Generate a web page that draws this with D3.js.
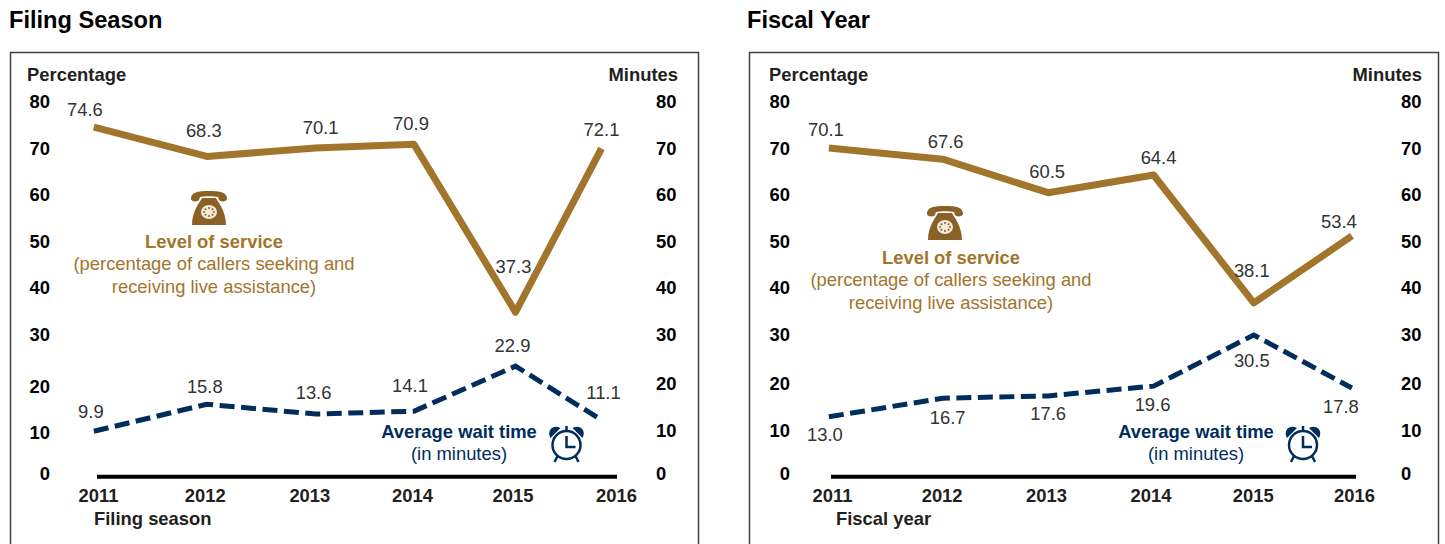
<!DOCTYPE html>
<html>
<head>
<meta charset="utf-8">
<script src="https://cdnjs.cloudflare.com/ajax/libs/d3/7.8.5/d3.min.js"></script>
<style>
  html, body { margin: 0; padding: 0; background: #fff; overflow: hidden; }
  svg { display: block; font-family: "Liberation Sans", Arial, sans-serif; }
</style>
</head>
<body>
<svg id="chart" width="1445" height="544"></svg>
<script>
const yLabels = [0, 10, 20, 30, 40, 50, 60, 70, 80];
const years = [2011, 2012, 2013, 2014, 2015, 2016];

// left panel. plotted heights in the source differ a little from the printed labels, so both are kept
const filingLabelPos = [2011, 2012.03, 2013.04, 2014.03, 2015, 2016];
const filingPointPos = [2010.96, 2012.05, 2013.1, 2014.05, 2015.03, 2015.86];
const filingService = [74.6, 68.3, 70.1, 70.9, 34.8, 70];
const filingServiceText = ['74.6', '68.3', '70.1', '70.9', '37.3', '72.1'];
const filingWait = [9.2, 15, 12.9, 13.5, 23.2, 11.6];
const filingWaitText = ['9.9', '15.8', '13.6', '14.1', '22.9', '11.1'];

// right panel
const fiscalLabelPos = [2011, 2012.05, 2013.05, 2014.05, 2015.03, 2016];
const fiscalPointPos = [2010.97, 2012.06, 2013.07, 2014.08, 2015.04, 2015.98];
const fiscalService = [70.1, 67.7, 60.5, 64.3, 36.8, 51.2];
const fiscalServiceText = ['70.1', '67.6', '60.5', '64.4', '38.1', '53.4'];
const fiscalWait = [12.3, 16.3, 16.8, 18.9, 29.9, 18.5];
const fiscalWaitText = ['13.0', '16.7', '17.6', '19.6', '30.5', '17.8'];

// the printed axis numbers sit slightly off the true scale near the bottom
const yPosOuterLeft = [0, 8.8, 18.9, 30, 40, 50, 60, 70, 80];
const yPosOther = [0, 9.4, 19.5, 30, 40, 50, 60, 70, 80];

const GOLD = '#a2752c', NAVY = '#002d5c', INK = '#231f20';
const FS = 18.4;

const svg = d3.select('#chart');

function drawPanel(p) {
  const g = svg.append('g');
  const x = d3.scaleLinear().domain([2011, 2016]).range([p.x0, p.x1]);
  const y = d3.scaleLinear().domain([0, 80]).range([474, 102]);

  g.append('text').attr('x', p.titleX).attr('y', 28)
    .attr('font-size', 23.6).attr('font-weight', 700).attr('fill', '#000').text(p.title);
  g.append('rect').attr('x', p.boxX).attr('y', 52.5).attr('width', p.boxW).attr('height', 520)
    .attr('fill', 'none').attr('stroke', '#404040').attr('stroke-width', 1.5);

  const bold = (sel) => sel.attr('font-size', FS).attr('font-weight', 700).attr('fill', INK);
  bold(g.append('text').attr('x', p.pctX).attr('y', 80.5).text('Percentage'));
  bold(g.append('text').attr('x', p.minX).attr('y', 80.5).attr('text-anchor', 'end').text('Minutes'));
  bold(g.append('text').attr('x', p.axisTitleX).attr('y', 525).text(p.axisTitle));

  // y axes both sides, just bold numbers
  const left = g.append('g').attr('transform', `translate(${p.yLeft},0)`)
    .call(d3.axisLeft(y).tickValues(p.yPosLeft).tickSize(0).tickPadding(0).tickFormat((d, i) => yLabels[i]));
  const right = g.append('g').attr('transform', `translate(${p.yRight},0)`)
    .call(d3.axisRight(y).tickValues(yPosOther).tickSize(0).tickPadding(0).tickFormat((d, i) => yLabels[i]));
  [left, right].forEach(a => {
    a.select('.domain').remove();
    a.selectAll('text').attr('font-size', FS).attr('font-weight', 700).attr('fill', '#000');
  });

  // x axis: thick baseline, labels at the positions
  const bottom = g.append('g').attr('transform', 'translate(0,489)')
    .call(d3.axisBottom(x).tickValues(p.labelPos).tickSize(0).tickPadding(0)
      .tickFormat((d, i) => years[i]));
  bottom.select('.domain').remove();
  bottom.selectAll('text').attr('font-size', FS).attr('font-weight', 700).attr('fill', INK).attr('dy', '0.71em');
  g.append('line').attr('x1', x(2011) - 1).attr('x2', p.axisEnd).attr('y1', 476.7).attr('y2', 476.7)
    .attr('stroke', '#000').attr('stroke-width', 4);

  const line = d3.line().x(d => x(d.x)).y(d => y(d.v));
  const rows = (vals) => vals.map((v, i) => ({ x: p.pointPos[i], v }));

  g.append('path').attr('d', line(rows(p.service))).attr('fill', 'none')
    .attr('stroke', GOLD).attr('stroke-width', 7).attr('stroke-linejoin', 'round');
  g.append('path').attr('d', line(rows(p.wait))).attr('fill', 'none')
    .attr('stroke', NAVY).attr('stroke-width', 5).attr('stroke-dasharray', '15 6.5');

  // value labels, nudged off their points by hand
  const labels = (texts, vals, off) => g.append('g').selectAll('text').data(texts).join('text')
    .attr('x', (d, i) => x(p.pointPos[i]) + off[i][0])
    .attr('y', (d, i) => y(vals[i]) + off[i][1])
    .attr('text-anchor', 'middle').attr('font-size', FS).attr('fill', '#333').text(d => d);
  labels(p.serviceText, p.service, p.serviceOff);
  labels(p.waitText, p.wait, p.waitOff);

  // series captions
  const cap = g.append('g').attr('text-anchor', 'middle');
  cap.append('text').attr('x', p.svcX).attr('y', p.svcY).attr('font-size', FS).attr('font-weight', 700).attr('fill', GOLD).text('Level of service');
  cap.append('text').attr('x', p.svcX).attr('y', p.svcY + 22).attr('font-size', FS).attr('fill', GOLD).text('(percentage of callers seeking and');
  cap.append('text').attr('x', p.svcX).attr('y', p.svcY + 45).attr('font-size', FS).attr('fill', GOLD).text('receiving live assistance)');
  cap.append('text').attr('x', p.waitX).attr('y', 438).attr('font-size', FS).attr('font-weight', 700).attr('fill', NAVY).text('Average wait time');
  cap.append('text').attr('x', p.waitX).attr('y', 460).attr('font-size', FS).attr('fill', NAVY).text('(in minutes)');

  drawPhone(g, p.phoneX, p.phoneY);
  drawClock(g, p.clockX, p.clockY);
}

function drawPhone(g, cx, cy) {
  const t = g.append('g').attr('transform', `translate(${cx},${cy})`);
  t.append('path').attr('fill', '#8a6227')
    .attr('d', 'M-18,-9 C-18,-17 -8,-17 0,-17 C8,-17 18,-17 18,-9 C18,-6 11,-6 10,-8 L9,-11 C4,-12 -4,-12 -9,-11 L-10,-8 C-11,-6 -18,-6 -18,-9 Z');
  t.append('path').attr('fill', '#8a6227')
    .attr('d', 'M-7,-10 L7,-10 C9,-6 17,3 17,17 L-17,17 C-17,3 -9,-6 -7,-10 Z');
  t.append('ellipse').attr('cx', 0).attr('cy', 4).attr('rx', 8).attr('ry', 7).attr('fill', '#f3ead9');
  d3.range(8).forEach(i => t.append('circle')
    .attr('cx', 5 * Math.cos(i * Math.PI / 4)).attr('cy', 4 + 4 * Math.sin(i * Math.PI / 4))
    .attr('r', 1).attr('fill', '#8a6227'));
}

function drawClock(g, cx, cy) {
  const t = g.append('g').attr('transform', `translate(${cx},${cy})`)
    .attr('fill', 'none').attr('stroke', NAVY);
  t.append('circle').attr('cy', 1).attr('r', 14).attr('stroke-width', 2.5);
  t.append('path').attr('d', 'M0,-8 L0,3 L9,3').attr('stroke-width', 2.5);
  t.append('path').attr('d', 'M-9,12 L-12,18 M9,12 L12,18 M0,-14 L0,-18').attr('stroke-width', 2.5);
  t.append('path').attr('fill', NAVY).attr('stroke', 'none')
    .attr('d', 'M-16,-6 C-20,-13 -14,-20 -6,-16 Z M16,-6 C20,-13 14,-20 6,-16 Z');
}

drawPanel({
  title: 'Filing Season', titleX: 9, boxX: 10.5, boxW: 688,
  pctX: 27, minX: 678, axisTitle: 'Filing season', axisTitleX: 94,
  x0: 98, x1: 616, axisEnd: 617, yLeft: 50, yRight: 656, yPosLeft: yPosOuterLeft,
  labelPos: filingLabelPos, pointPos: filingPointPos,
  service: filingService, serviceText: filingServiceText,
  wait: filingWait, waitText: filingWaitText,
  // dx, dy of the printed label from its point
  serviceOff: [[-9, -11], [-3, -19], [5, -14], [-3, -14], [-2, -39], [0, -13]],
  waitOff: [[-3, -13], [-2, -11], [-2, -15], [-4, -19], [-3, -14], [2, -21]],
  svcX: 214, svcY: 247.5, waitX: 459,
  phoneX: 209, phoneY: 208, clockX: 566.5, clockY: 444
});

drawPanel({
  title: 'Fiscal Year', titleX: 747, boxX: 749.5, boxW: 689,
  pctX: 769, minX: 1422, axisTitle: 'Fiscal year', axisTitleX: 836,
  x0: 832, x1: 1354, axisEnd: 1356, yLeft: 790, yRight: 1401, yPosLeft: yPosOther,
  labelPos: fiscalLabelPos, pointPos: fiscalPointPos,
  service: fiscalService, serviceText: fiscalServiceText,
  wait: fiscalWait, waitText: fiscalWaitText,
  serviceOff: [[-3, -12], [3, -11], [-1, -15], [5, -11], [-2, -26], [-13, -8]],
  waitOff: [[-4, 24], [5, 26], [0, 24], [-1, 25], [-2, 32], [-11, 25]],
  svcX: 951, svcY: 263.5, waitX: 1196,
  phoneX: 945, phoneY: 223, clockX: 1303, clockY: 444
});
</script>
</body>
</html>
